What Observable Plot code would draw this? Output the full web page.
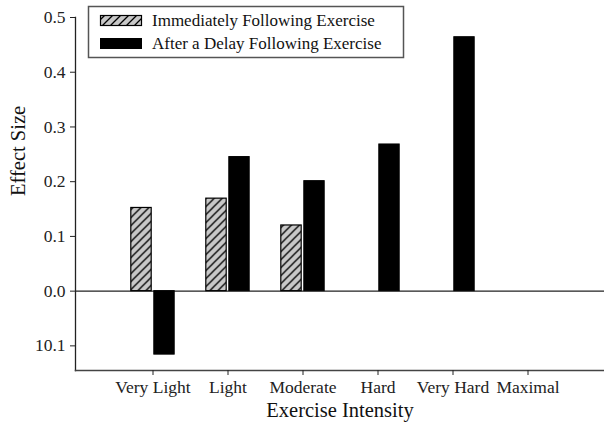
<!DOCTYPE html>
<html>
<head>
<meta charset="utf-8">
<script src="https://cdn.jsdelivr.net/npm/d3@7"></script>
<script src="https://cdn.jsdelivr.net/npm/@observablehq/plot@0.6"></script>
<style>
  html, body { margin: 0; padding: 0; background: #fff; }
  #chart { width: 604px; height: 426px; }
  #chart svg, #chart svg text { font-family: "Liberation Serif", "Times New Roman", serif !important; }
</style>
</head>
<body>
<div id="chart"></div>
<script>
const categories = ["Very Light", "Light", "Moderate", "Hard", "Very Hard", "Maximal"];
const immediate = [0.152, 0.169, 0.120, null, null, null];
const delayed = [-0.116, 0.245, 0.201, 0.268, 0.464, null];
const seriesNames = ["Immediately Following Exercise", "After a Delay Following Exercise"];
const yTicks = [-0.1, 0.0, 0.1, 0.2, 0.3, 0.4, 0.5];
const yTickLabels = ["10.1", "0.0", "0.1", "0.2", "0.3", "0.4", "0.5"];
const yTitle = "Effect Size";
const xTitle = "Exercise Intensity";

const immRows = categories.map((c, i) => ({cat: c, v: immediate[i]})).filter(d => d.v != null);
const delRows = categories.map((c, i) => ({cat: c, v: delayed[i]})).filter(d => d.v != null);

const FONT = "'Liberation Serif', 'Times New Roman', serif";
const inset = 27.3;

const svg = Plot.plot({
  width: 604,
  height: 426,
  marginLeft: 75,
  marginRight: 0,
  marginTop: 17,
  marginBottom: 56,
  style: {fontFamily: FONT, fontSize: "17.5px", background: "#fff", color: "#000"},
  x: {type: "band", domain: categories, paddingInner: 0, paddingOuter: 0.5, axis: null},
  y: {domain: [-0.145, 0.5], axis: null},
  marks: [
    Plot.ruleY([0], {stroke: "#222", strokeWidth: 1.2}),
    Plot.barY(immRows, {x: "cat", y: "v", fill: "url(#hatch)", stroke: "#000", strokeWidth: 1.2, dx: -11.5, insetLeft: inset, insetRight: inset}),
    Plot.barY(delRows, {x: "cat", y: "v", fill: "#000", stroke: "#000", strokeWidth: 1, dx: 11.5, insetLeft: inset, insetRight: inset}),
    Plot.frame({anchor: "left", stroke: "#222", strokeWidth: 1.3}),
    Plot.frame({anchor: "bottom", stroke: "#444", strokeWidth: 1.5}),
    Plot.axisY({ticks: yTicks, tickFormat: d => yTickLabels[yTicks.findIndex(t => Math.abs(t - d) < 1e-9)], tickSize: 5, tickPadding: 5, fontSize: 17.5, label: null, stroke: "#222", fill: "#222"}),
    Plot.axisX({tickSize: 5, tickPadding: 5, fontSize: 17.5, label: null, stroke: "#222", fill: "#222"}),
    Plot.text([yTitle], {frameAnchor: "left", dx: -57, dy: 2, rotate: -90, fontSize: 20.5, fill: "#111"}),
    Plot.text([xTitle], {frameAnchor: "bottom", dy: 46, fontSize: 20.5, fill: "#111"})
  ]
});
svg.setAttribute("font-family", FONT);
svg.style.fontFamily = FONT;

const s = d3.select(svg);
const defs = s.insert("defs", ":first-child");
const pat = defs.append("pattern").attr("id", "hatch").attr("patternUnits", "userSpaceOnUse")
  .attr("width", 8).attr("height", 8);
pat.append("rect").attr("width", 8).attr("height", 8).attr("fill", "#c8c8c8");
pat.append("path").attr("d", "M-2,2 L2,-2 M0,8 L8,0 M6,10 L10,6").attr("stroke", "#000").attr("stroke-width", 1.3);

// legend
const lg = s.append("g").attr("font-family", FONT).attr("font-size", 17).attr("text-anchor", "start");
lg.append("rect").attr("x", 88.5).attr("y", 6.5).attr("width", 315).attr("height", 51)
  .attr("fill", "#fff").attr("stroke", "#555").attr("stroke-width", 1.5);
lg.append("rect").attr("x", 100.5).attr("y", 15.5).attr("width", 41).attr("height", 10)
  .attr("fill", "url(#hatch)").attr("stroke", "#000").attr("stroke-width", 1.2);
lg.append("rect").attr("x", 100.5).attr("y", 38.5).attr("width", 41).attr("height", 10)
  .attr("fill", "#000").attr("stroke", "#000");
lg.append("text").attr("x", 152).attr("y", 26).attr("fill", "#111").text(seriesNames[0]);
lg.append("text").attr("x", 152).attr("y", 49).attr("fill", "#111").text(seriesNames[1]);

document.getElementById("chart").appendChild(svg);
</script>
</body>
</html>
